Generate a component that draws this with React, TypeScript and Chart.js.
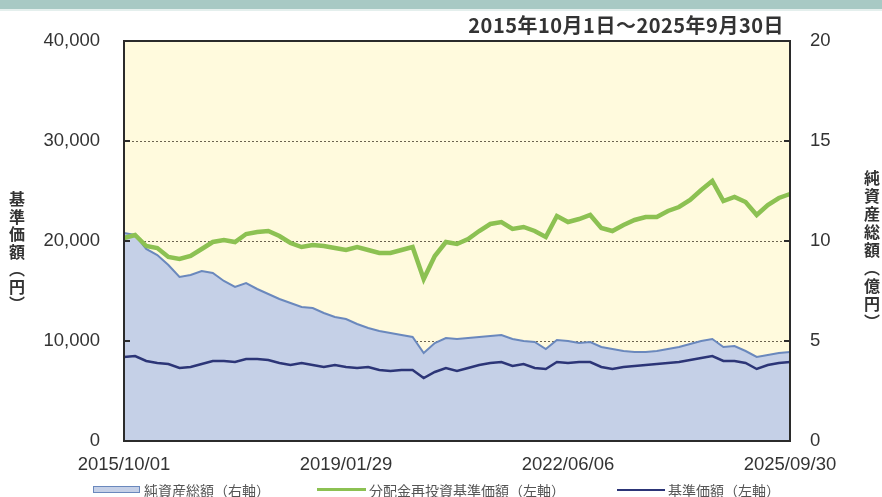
import React, { useEffect, useRef } from 'react';
import { Chart, registerables } from 'chart.js';

Chart.register(...registerables);

const dates = [
  '2015/10/01', '2015/12/01', '2016/02/01', '2016/04/01', '2016/06/01', '2016/08/01', '2016/10/03', '2016/12/01',
  '2017/02/01', '2017/04/03', '2017/06/01', '2017/08/01', '2017/10/02', '2017/12/01', '2018/02/01', '2018/04/02',
  '2018/06/01', '2018/08/01', '2018/10/01', '2018/12/03', '2019/01/29', '2019/04/01', '2019/06/03', '2019/08/01',
  '2019/10/01', '2019/12/02', '2020/02/03', '2020/04/01', '2020/06/01', '2020/08/03', '2020/10/01', '2020/12/01',
  '2021/02/01', '2021/04/01', '2021/06/01', '2021/08/02', '2021/10/01', '2021/12/01', '2022/02/01', '2022/04/01',
  '2022/06/06', '2022/08/01', '2022/10/03', '2022/12/01', '2023/02/01', '2023/04/03', '2023/06/01', '2023/08/01',
  '2023/10/02', '2023/12/01', '2024/02/01', '2024/04/01', '2024/06/03', '2024/08/01', '2024/10/01', '2024/12/02',
  '2025/02/03', '2025/04/01', '2025/06/02', '2025/08/01', '2025/09/30',
];

const xTickLabels = ['2015/10/01', '2019/01/29', '2022/06/06', '2025/09/30'];

// 分配金再投資基準価額（円・左軸）
const reinvestNav = [
  20300, 20600, 19500, 19300, 18400, 18200, 18500, 19200, 19900, 20100,
  19900, 20700, 20900, 21000, 20500, 19800, 19400, 19600, 19500, 19300,
  19100, 19400, 19100, 18800, 18800, 19100, 19400, 16200, 18500, 19900,
  19700, 20200, 21000, 21700, 21900, 21200, 21400, 21000, 20400, 22500,
  21900, 22200, 22600, 21300, 21000, 21600, 22100, 22400, 22400, 23000,
  23400, 24100, 25100, 26000, 24000, 24400, 23900, 22600, 23600, 24300,
  24700,
];

// 基準価額（円・左軸）
const nav = [
  8400, 8500, 8000, 7800, 7700, 7300, 7400, 7700, 8000, 8000,
  7900, 8200, 8200, 8100, 7800, 7600, 7800, 7600, 7400, 7600,
  7400, 7300, 7400, 7100, 7000, 7100, 7100, 6300, 6900, 7300,
  7000, 7300, 7600, 7800, 7900, 7500, 7700, 7300, 7200, 7900,
  7800, 7900, 7900, 7400, 7200, 7400, 7500, 7600, 7700, 7800,
  7900, 8100, 8300, 8500, 8000, 8000, 7800, 7200, 7600, 7800,
  7900,
];

// 純資産総額（億円・右軸）
const netAssets = [
  10.4, 10.3, 9.6, 9.3, 8.8, 8.2, 8.3, 8.5, 8.4, 8.0,
  7.7, 7.9, 7.6, 7.35, 7.1, 6.9, 6.7, 6.65, 6.4, 6.2,
  6.1, 5.85, 5.65, 5.5, 5.4, 5.3, 5.2, 4.4, 4.9, 5.15,
  5.1, 5.15, 5.2, 5.25, 5.3, 5.1, 5.0, 4.95, 4.6, 5.05,
  5.0, 4.9, 4.95, 4.7, 4.6, 4.5, 4.45, 4.45, 4.5, 4.6,
  4.7, 4.85, 5.0, 5.1, 4.7, 4.75, 4.5, 4.2, 4.3, 4.4,
  4.45,
];

const leftGridValues = [10000, 20000, 30000];

const GREEN = '#8cc152';
const NAVY = '#2c3577';
const AREA_LINE = '#6a88bd';
const AREA_FILL = '#c5d0e7';
const PLOT_BG = '#fffadd';
const TEXT = '#333333';
const TICK_FONT = '"Liberation Sans", Arial, sans-serif';
const CJK_FONT = '"Noto Sans CJK JP", "Noto Sans", sans-serif';

const framePlugin = {
  id: 'frame',
  beforeDraw(chart: any) {
    const { ctx, chartArea } = chart;
    const { left, top, right, bottom } = chartArea;
    ctx.save();
    ctx.fillStyle = PLOT_BG;
    ctx.fillRect(left, top, right - left, bottom - top);
    ctx.restore();
  },
  beforeDatasetsDraw(chart: any) {
    const { ctx, chartArea } = chart;
    const y = chart.scales.y;
    ctx.save();
    ctx.strokeStyle = '#6b6350';
    ctx.lineWidth = 1;
    ctx.setLineDash([2, 2]);
    leftGridValues.forEach((v) => {
      const py = Math.round(y.getPixelForValue(v)) + 0.5;
      ctx.beginPath();
      ctx.moveTo(chartArea.left, py);
      ctx.lineTo(chartArea.right, py);
      ctx.stroke();
    });
    ctx.restore();
  },
  afterDatasetsDraw(chart: any) {
    const { ctx, chartArea } = chart;
    const { left, top, right, bottom } = chartArea;
    const y = chart.scales.y;
    ctx.save();
    ctx.strokeStyle = '#2b2b2b';
    ctx.lineWidth = 2;
    ctx.strokeRect(left, top, right - left, bottom - top);
    leftGridValues.forEach((v) => {
      const py = y.getPixelForValue(v);
      ctx.beginPath();
      ctx.moveTo(left, py);
      ctx.lineTo(left + 6, py);
      ctx.moveTo(right - 6, py);
      ctx.lineTo(right, py);
      ctx.stroke();
    });
    ctx.restore();
  },
};

export default function App() {
  const ref = useRef<HTMLCanvasElement>(null);

  useEffect(() => {
    const canvas = ref.current;
    if (!canvas) return;
    const chart = new Chart(canvas, {
      type: 'line',
      data: {
        labels: dates,
        datasets: [
          {
            label: '分配金再投資基準価額（左軸）',
            data: reinvestNav,
            yAxisID: 'y',
            borderColor: GREEN,
            borderWidth: 4.5,
            pointRadius: 0,
            fill: false,
            tension: 0,
            order: 1,
          },
          {
            label: '基準価額（左軸）',
            data: nav,
            yAxisID: 'y',
            borderColor: NAVY,
            borderWidth: 2.5,
            pointRadius: 0,
            fill: false,
            tension: 0,
            order: 2,
          },
          {
            label: '純資産総額（右軸）',
            data: netAssets,
            yAxisID: 'y1',
            borderColor: AREA_LINE,
            backgroundColor: AREA_FILL,
            borderWidth: 2,
            pointRadius: 0,
            fill: 'origin',
            tension: 0,
            order: 3,
          },
        ],
      },
      options: {
        responsive: false,
        animation: false,
        devicePixelRatio: 1,
        layout: { padding: { top: 41, left: 0, right: 0, bottom: 0 } },
        plugins: {
          legend: { display: false },
          tooltip: { enabled: false },
          title: { display: false },
        },
        scales: {
          x: {
            type: 'category',
            offset: false,
            grid: { display: false, drawTicks: false },
            border: { display: false },
            ticks: {
              autoSkip: false,
              maxRotation: 0,
              minRotation: 0,
              padding: 13,
              color: TEXT,
              font: { family: TICK_FONT, size: 18.5 },
              callback: (_v: any, i: number) => (xTickLabels.includes(dates[i]) ? dates[i] : ''),
            },
            afterFit: (s: any) => {
              s.height = 56;
            },
          },
          y: {
            position: 'left',
            min: 0,
            max: 40000,
            grid: { display: false, drawTicks: false },
            border: { display: false },
            ticks: {
              stepSize: 10000,
              padding: 24,
              color: TEXT,
              font: { family: TICK_FONT, size: 18.5 },
              callback: (v: any) => Number(v).toLocaleString('en-US'),
            },
            afterFit: (s: any) => {
              s.width = 124;
            },
          },
          y1: {
            position: 'right',
            min: 0,
            max: 20,
            grid: { display: false, drawTicks: false },
            border: { display: false },
            ticks: {
              stepSize: 5,
              padding: 20,
              color: TEXT,
              font: { family: TICK_FONT, size: 18.5 },
            },
            afterFit: (s: any) => {
              s.width = 92;
            },
          },
        },
      },
      plugins: [framePlugin],
    });
    return () => chart.destroy();
  }, []);

  const legendText: React.CSSProperties = {
    position: 'absolute',
    top: 480,
    fontFamily: CJK_FONT,
    fontSize: 14,
    lineHeight: '20px',
    color: '#555',
    whiteSpace: 'nowrap',
  };

  return (
    <div
      style={{
        position: 'fixed',
        left: 0,
        top: 0,
        width: 882,
        height: 497,
        background: '#ffffff',
        overflow: 'hidden',
      }}
    >
      <div style={{ position: 'absolute', left: 0, top: 0, width: 882, height: 9, background: '#a8c9c4' }} />
      <div style={{ position: 'absolute', left: 0, top: 9, width: 882, height: 2, background: '#e4efed' }} />
      <canvas ref={ref} width={882} height={497} style={{ position: 'absolute', left: 0, top: 0, width: 882, height: 497 }} />
      <div
        style={{
          position: 'absolute',
          right: 98,
          top: 14,
          fontFamily: CJK_FONT,
          fontSize: 20,
          fontWeight: 700,
          lineHeight: '22px',
          letterSpacing: 0.5,
          color: TEXT,
          whiteSpace: 'nowrap',
        }}
      >
        2015年10月1日～2025年9月30日
      </div>
      <div
        style={{
          position: 'absolute',
          left: 7,
          top: 191,
          writingMode: 'vertical-rl',
          fontFamily: CJK_FONT,
          fontSize: 16,
          fontWeight: 700,
          lineHeight: '20px',
          letterSpacing: 1.5,
          color: TEXT,
        }}
      >
        基準価額（円）
      </div>
      <div
        style={{
          position: 'absolute',
          left: 862,
          top: 170,
          writingMode: 'vertical-rl',
          fontFamily: CJK_FONT,
          fontSize: 16,
          fontWeight: 700,
          lineHeight: '20px',
          letterSpacing: 2,
          color: TEXT,
        }}
      >
        純資産総額（億円）
      </div>
      <div
        style={{
          position: 'absolute',
          left: 93,
          top: 486,
          width: 45,
          height: 5,
          background: AREA_FILL,
          border: `1.5px solid ${AREA_LINE}`,
        }}
      />
      <div style={{ ...legendText, left: 144 }}>純資産総額（右軸）</div>
      <div style={{ position: 'absolute', left: 317, top: 488, width: 49, height: 3, background: GREEN }} />
      <div style={{ ...legendText, left: 369 }}>分配金再投資基準価額（左軸）</div>
      <div style={{ position: 'absolute', left: 617, top: 489, width: 48, height: 2, background: NAVY }} />
      <div style={{ ...legendText, left: 668 }}>基準価額（左軸）</div>
    </div>
  );
}
